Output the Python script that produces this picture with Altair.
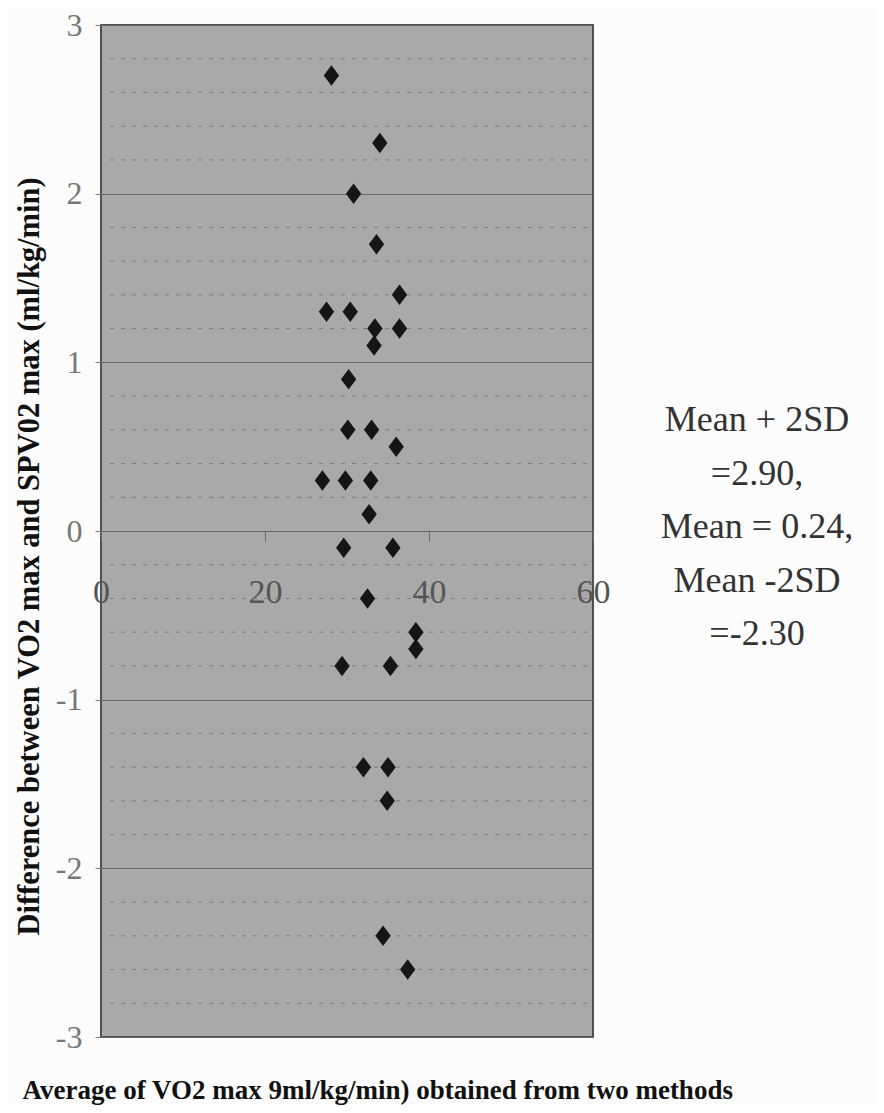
import altair as alt
import pandas as pd

# ---- data ----
AVG = [28.1, 34.0, 30.8, 33.6, 36.4, 27.5, 30.4, 33.4, 36.4, 33.3,
       30.2, 30.1, 33.0, 36.0, 27.0, 29.8, 32.9, 32.7, 29.6, 35.6,
       32.5, 38.4, 38.4, 29.4, 35.3, 32.0, 35.0, 34.9, 34.4, 37.4]
DIFF = [2.7, 2.3, 2.0, 1.7, 1.4, 1.3, 1.3, 1.2, 1.2, 1.1,
        0.9, 0.6, 0.6, 0.5, 0.3, 0.3, 0.3, 0.1, -0.1, -0.1,
        -0.4, -0.6, -0.7, -0.8, -0.8, -1.4, -1.4, -1.6, -2.4, -2.6]

X_TICKS = [0, 20, 40, 60]
Y_TICKS = [-3, -2, -1, 0, 1, 2, 3]
MINOR_GRID = [2.8, 2.6, 2.4, 2.2, 1.8, 1.6, 1.4, 1.2, 0.8, 0.6, 0.4, 0.2,
              -0.2, -0.4, -0.6, -0.8, -1.2, -1.4, -1.6, -1.8,
              -2.2, -2.4, -2.6, -2.8]
NOTE_LINES = ["Mean + 2SD", "=2.90,", "Mean = 0.24,", "Mean -2SD", "=-2.30"]

X_TITLE = "Average of VO2 max 9ml/kg/min) obtained from two methods"
Y_TITLE = "Difference between VO2 max and SPV02 max (ml/kg/min)"

W, H = 492, 1012
SERIF = "Liberation Serif"

pts = pd.DataFrame({"avg": AVG, "diff": DIFF})
grid_df = pd.DataFrame({"diff": MINOR_GRID})
note_df = pd.DataFrame({"note": ["\n".join(NOTE_LINES)]})

Y_ENC = alt.Y(
    "diff:Q",
    scale=alt.Scale(domain=[-3, 3], nice=False, zero=False),
    axis=alt.Axis(
        values=Y_TICKS, grid=True, gridColor="#6a6a6a", gridWidth=1,
        domain=False, tickSize=6, tickColor="#7a7a7a", ticks=True,
        labelExpr="'' + datum.value", labelFont=SERIF, labelFontSize=32,
        labelColor="#777777", labelPadding=13, labelOverlap=False,
        labelFlush=False,
        title=Y_TITLE, titleFont=SERIF, titleFontSize=30.5, titleFontWeight="bold",
        titleColor="#111111", titleX=-72, titleY=531, titleAngle=-90,
        titleAlign="center", titleBaseline="middle",
    ),
)

minor = alt.Chart(grid_df).mark_rule(
    color="#7c7c7c", strokeWidth=1, strokeDash=[4, 7]
).encode(
    y=Y_ENC,
    x=alt.value(9),
    x2=alt.value(W - 6),
)

points = alt.Chart(pts).mark_point(
    shape="M0,-1L0.75,0L0,1L-0.75,0Z", filled=True, color="#151515",
    size=420, opacity=1, strokeWidth=0,
).encode(
    x=alt.X(
        "avg:Q",
        scale=alt.Scale(domain=[0, 60], nice=False, zero=False),
        axis=alt.Axis(
            values=X_TICKS, grid=False, offset=-H / 2, tickSize=10,
            tickColor="#6a6a6a", domainColor="#6a6a6a", format="d",
            labelFont=SERIF, labelFontSize=34, labelColor="#555555",
            labelPadding=51, labelBaseline="middle", labelFlush=False,
            labelOverlap=False,
            title=X_TITLE, titleFont=SERIF, titleFontSize=27, titleFontWeight="bold",
            titleColor="#111111", titleX=-79, titleY=559, titleAlign="left",
            titleBaseline="middle",
        ),
    ),
    y=Y_ENC,
)

note = alt.Chart(note_df).mark_text(
    font=SERIF, fontSize=36, color="#333333", align="center",
    baseline="middle", lineBreak="\n", lineHeight=53.5,
).encode(
    text="note:N",
    x=alt.value(656),
    y=alt.value(395),
)

chart = alt.layer(minor, points, note).properties(
    width=W, height=H,
    autosize=alt.AutoSizeParams(type="none"),
    padding={"left": 93, "top": 17, "right": 283, "bottom": 68},
    background="#fcfcfc",
).configure_view(
    fill="#a9a9a9", stroke="#505050", strokeWidth=2
)

chart.save("out.html", embed_options={"renderer": "svg", "actions": False})
